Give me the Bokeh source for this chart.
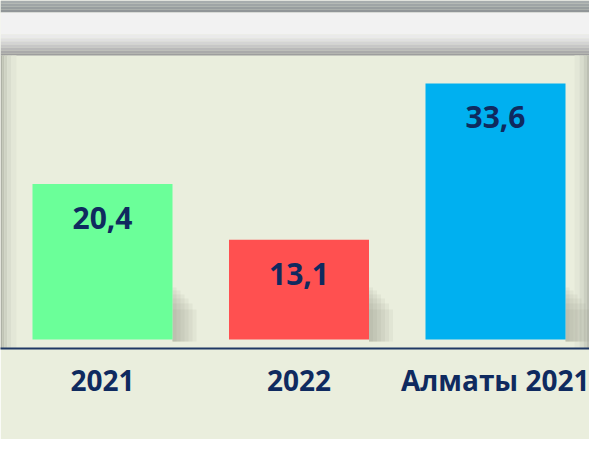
from bokeh.plotting import figure
from bokeh.models import Range1d, FixedTicker
from bokeh.core.properties import value
from bokeh.embed import file_html
from bokeh.resources import INLINE

# ---- data ----
categories = ["2021", "2022", "Алматы 2021"]
values = [20.4, 13.1, 33.6]
colors = ["#6bff99", "#ff5050", "#00b0f0"]
labels = [f"{v:.1f}".replace(".", ",") for v in values]

# ---- geometry (pixels) ----
W, H = 589, 439
BOTTOM = 91
FRAME_H = H - BOTTOM
PX_PER_UNIT_Y = 7.62
ZERO_FROM_BOTTOM = 9
PX_PER_CAT = 196.5
FIRST_CENTER = 102

y_start = -ZERO_FROM_BOTTOM / PX_PER_UNIT_Y
y_end = (FRAME_H - ZERO_FROM_BOTTOM) / PX_PER_UNIT_Y
x_start = -FIRST_CENTER / PX_PER_CAT
x_end = x_start + W / PX_PER_CAT

def ypx(py):
    """frame pixel (from top) -> data y"""
    return y_end - py / PX_PER_UNIT_Y

def xpx(px):
    return x_start + px / PX_PER_CAT

BG = "#eaeedd"
NAVY = "#0f2a5f"

p = figure(width=W, height=H, output_backend="svg", toolbar_location=None,
           x_range=Range1d(x_start, x_end), y_range=Range1d(y_start, y_end),
           y_axis_location=None, min_border_left=0, min_border_right=0,
           min_border_top=0, min_border_bottom=BOTTOM)
p.background_fill_color = BG
p.border_fill_color = BG
p.outline_line_color = None
p.grid.visible = False

# ---- decorative bands (slide frame) ----
top_strips = [
    (0, 3, "#a6acad"), (3, 6, "#9fa5a6"), (6, 9, "#989e9f"), (9, 12, "#919698"),
    (12, 34, "#f2f2f2"), (34, 38, "#eaeaea"), (38, 41, "#e0e0e0"),
    (41, 44, "#d4d4d4"), (44, 47, "#c7c7c7"), (47, 50, "#b9b9b9"),
    (50, 53, "#aaaaaa"), (53, 55, "#9e9e9e"),
]
p.quad(left=x_start, right=x_end,
       top=[ypx(a) for a, b, c in top_strips],
       bottom=[ypx(b) for a, b, c in top_strips],
       fill_color=[c for a, b, c in top_strips], line_color=None)

side_strips = [
    (0, 2, "#aeb1a6"), (2, 4, "#c0c3b5"), (4, 7, "#ced2c3"), (7, 11, "#dadecf"),
    (11, 16, "#e3e7d7"),
    (574, 579, "#e3e7d7"), (579, 583, "#d8dccd"), (583, 586, "#cbcfc1"),
    (586, 589, "#bcbfb3"),
]
p.quad(left=[xpx(a) for a, b, c in side_strips],
       right=[xpx(b) for a, b, c in side_strips],
       top=ypx(55), bottom=y_start,
       fill_color=[c for a, b, c in side_strips], line_color=None)

xs = list(range(len(categories)))
bar_w = 140 / PX_PER_CAT

# soft shadows at the lower right of each bar
for dx, h in [(24, 30), (20, 36), (16, 41), (12, 45), (8, 49), (4, 52)]:
    p.quad(left=[x + bar_w / 2 for x in xs],
           right=[x + bar_w / 2 + dx / PX_PER_CAT for x in xs],
           bottom=[-2 / PX_PER_UNIT_Y] * len(xs),
           top=[h / PX_PER_UNIT_Y] * len(xs),
           fill_color="#6f7268", fill_alpha=0.07, line_color=None)

p.vbar(x=xs, top=values, bottom=0, width=bar_w, fill_color=colors, line_color=None)

p.text(x=xs, y=values, text=labels, y_offset=34, text_align="center",
       text_baseline="middle", text_font=value("Open Sans"),
       text_font_style="bold", text_font_size="30px", text_color=NAVY)

# ---- x axis ----
ax = p.xaxis[0]
ax.ticker = FixedTicker(ticks=xs)
ax.major_label_overrides = {i: c for i, c in zip(xs, categories)}
ax.axis_line_color = "#1f3864"
ax.axis_line_width = 2
ax.major_tick_line_color = None
ax.minor_tick_line_color = None
ax.major_tick_out = 0
ax.major_label_standoff = 12
ax.major_label_text_font = "Open Sans"
ax.major_label_text_font_style = "bold"
ax.major_label_text_font_size = "28px"
ax.major_label_text_color = NAVY

open("out.html", "w").write(file_html(p, INLINE))
